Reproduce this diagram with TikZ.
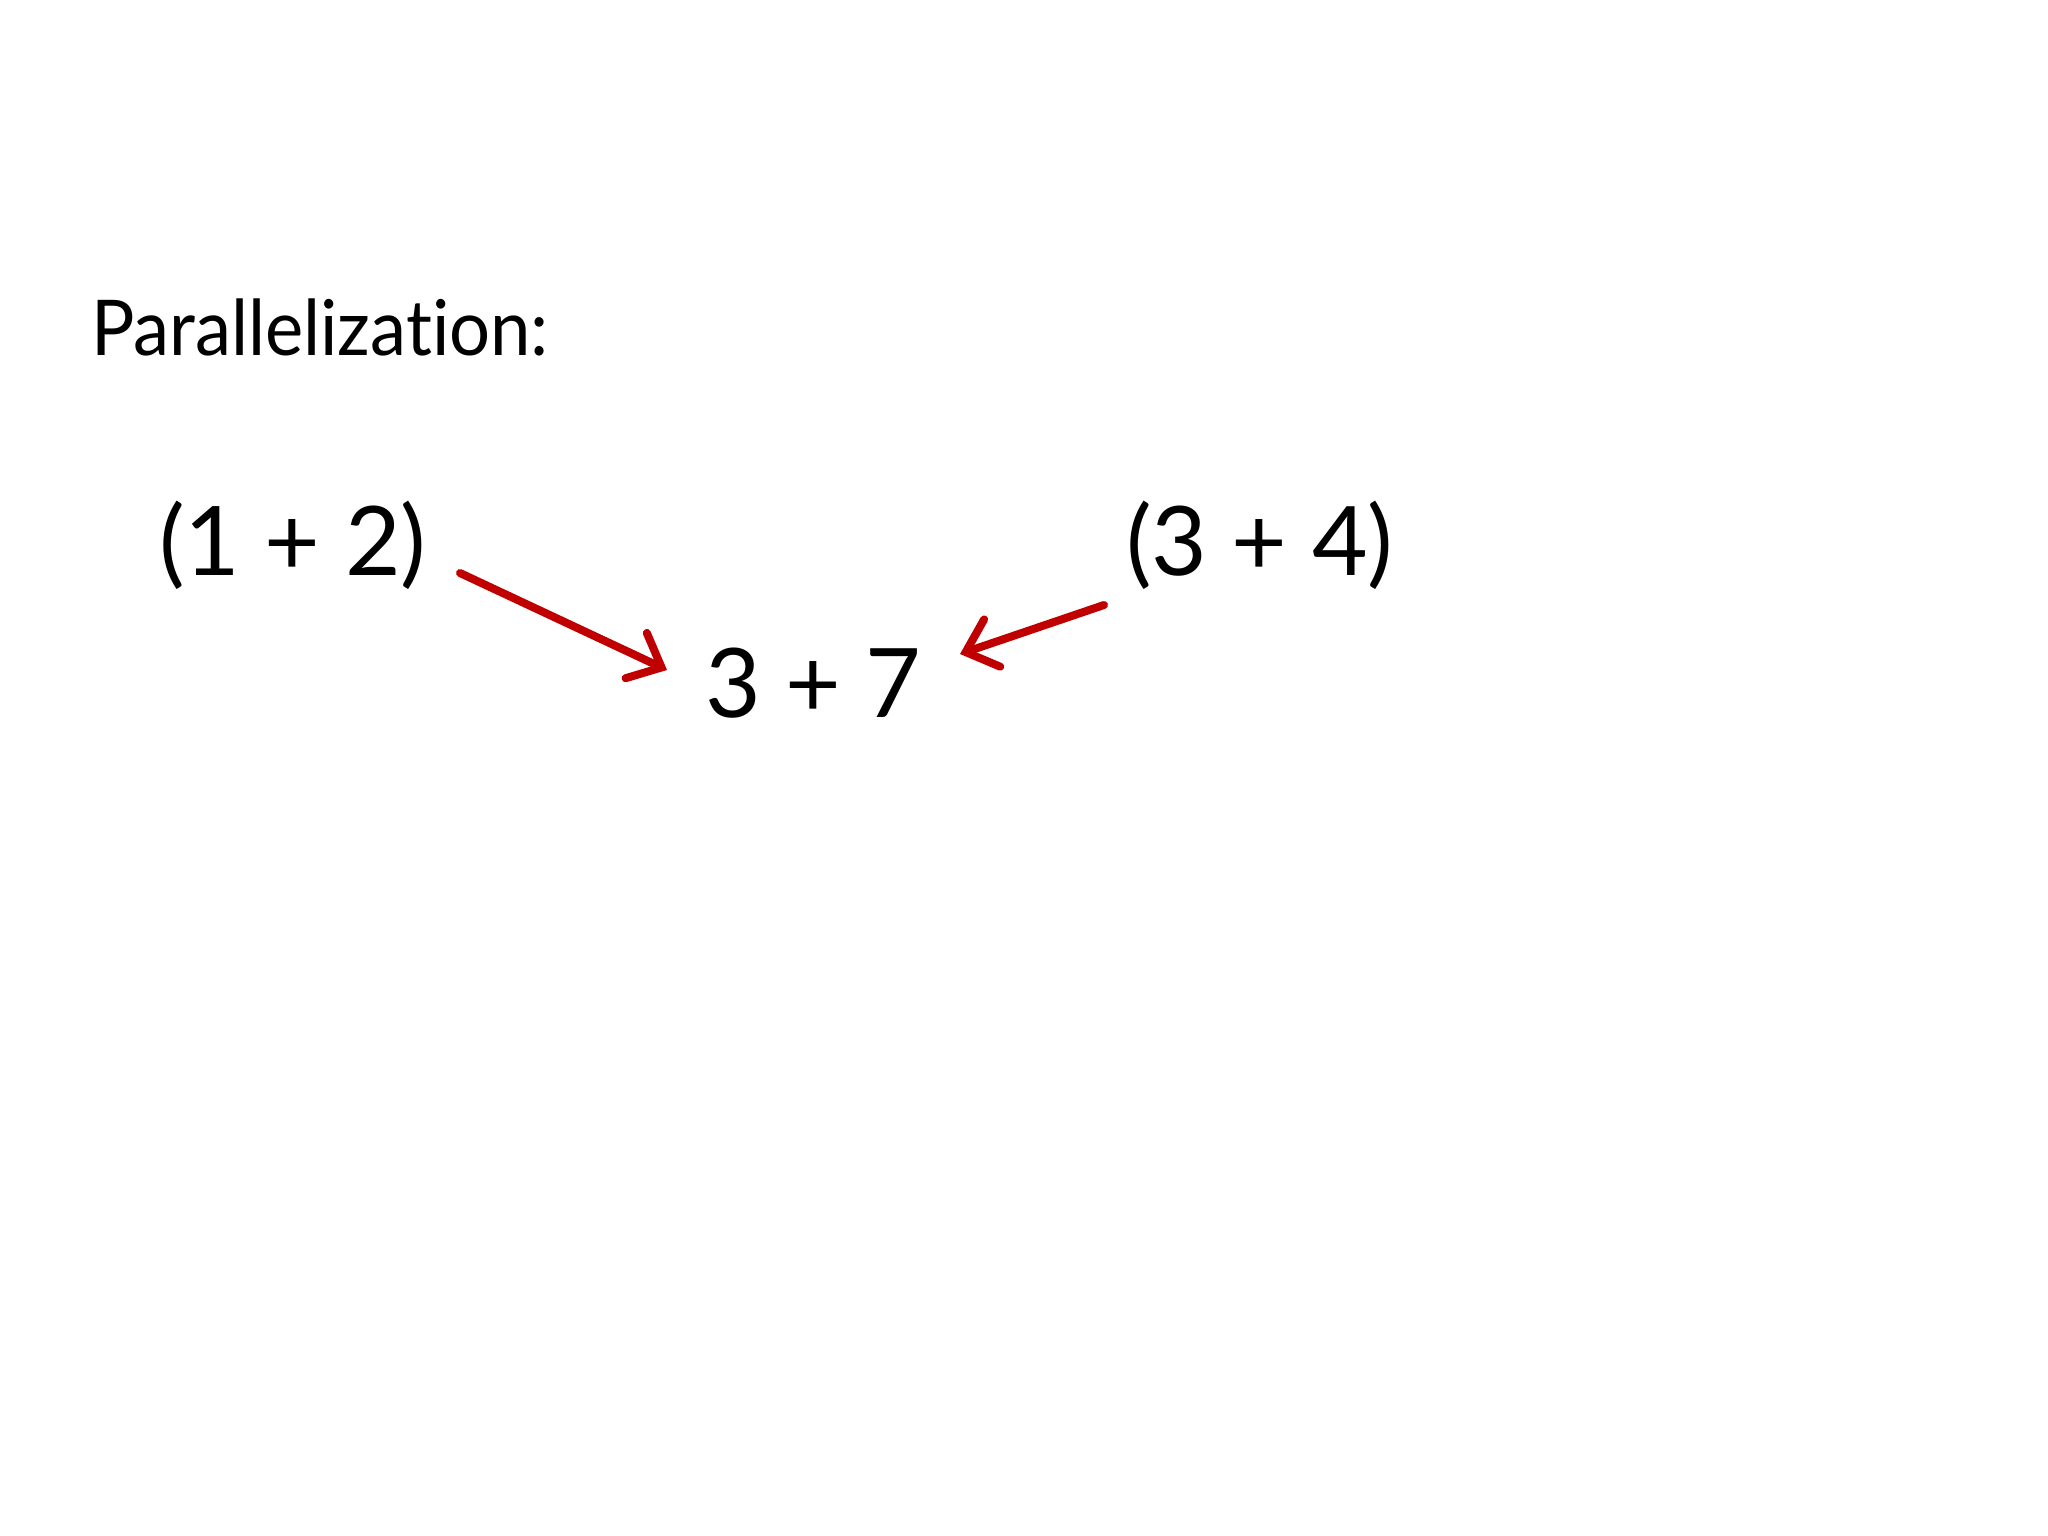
\documentclass[tikz,border=0pt]{standalone}
\usepackage{fontspec}
\setmainfont[Ligatures={NoCommon}]{Lato}
\usetikzlibrary{arrows.meta}
\definecolor{arrowred}{RGB}{192,0,0}
\tikzset{
  lbl/.style={anchor=base west, inner sep=0pt, outer sep=0pt, font=\fontsize{96}{110}\selectfont},
  title/.style={anchor=base west, inner sep=0pt, outer sep=0pt, font=\fontsize{77}{90}\selectfont, xscale=0.94, transform shape},
  redarrow/.style={draw=arrowred, line width=8pt, line cap=round,
    -{Straight Barb[length=28pt,width=50pt,line width=8pt,line cap=round]}}
}
\begin{document}
\begin{tikzpicture}[x=1pt,y=-1pt]
\useasboundingbox (0,0) rectangle (2048,1536);
\node[title] (t) at (91,355) {Parallelization:};
\node[lbl] (a) at (159,575) {(1 + 2)};
\node[lbl] (b) at (1126,575) {(3 + 4)};
\node[lbl] (c) at (705,717) {3 + 7};
\coordinate (a1) at (460,573);
\coordinate (c1) at (667,670);
\coordinate (b1) at (1104,605);
\coordinate (c2) at (960,654);
\draw[redarrow] (a1) -- (c1);
\draw[redarrow] (b1) -- (c2);
\end{tikzpicture}
\end{document}
